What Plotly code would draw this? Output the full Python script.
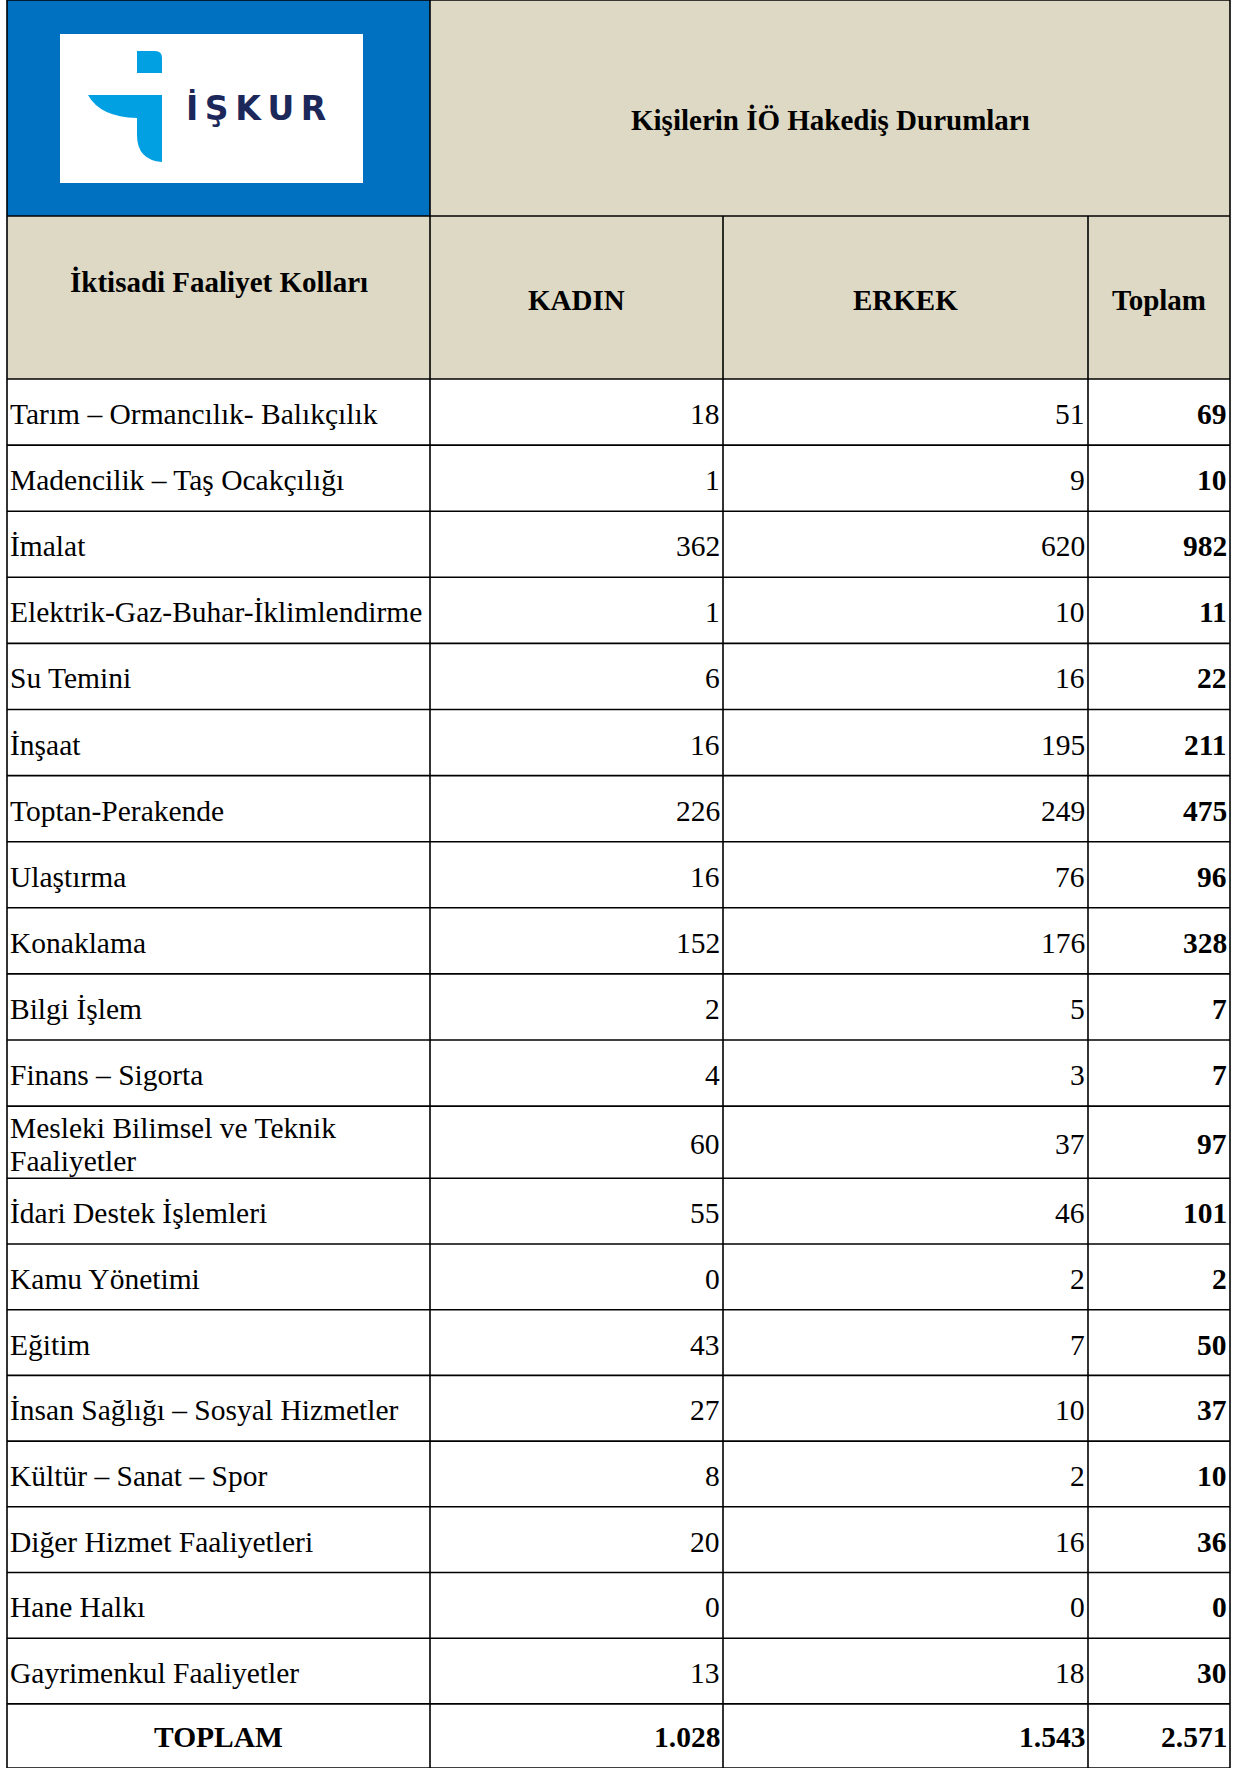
import plotly.graph_objects as go

# ---------------- data ----------------
title = "Kişilerin İÖ Hakediş Durumları"
header_labels = ["İktisadi Faaliyet Kolları", "KADIN", "ERKEK", "Toplam"]
categories = [
    "Tarım – Ormancılık- Balıkçılık",
    "Madencilik – Taş Ocakçılığı",
    "İmalat",
    "Elektrik-Gaz-Buhar-İklimlendirme",
    "Su Temini",
    "İnşaat",
    "Toptan-Perakende",
    "Ulaştırma",
    "Konaklama",
    "Bilgi İşlem",
    "Finans – Sigorta",
    "Mesleki Bilimsel ve Teknik Faaliyetler",
    "İdari Destek İşlemleri",
    "Kamu Yönetimi",
    "Eğitim",
    "İnsan Sağlığı – Sosyal Hizmetler",
    "Kültür – Sanat – Spor",
    "Diğer Hizmet Faaliyetleri",
    "Hane Halkı",
    "Gayrimenkul Faaliyetler",
]
kadin = [18, 1, 362, 1, 6, 16, 226, 16, 152, 2, 4, 60, 55, 0, 43, 27, 8, 20, 0, 13]
erkek = [51, 9, 620, 10, 16, 195, 249, 76, 176, 5, 3, 37, 46, 2, 7, 10, 2, 16, 0, 18]
toplam = [69, 10, 982, 11, 22, 211, 475, 96, 328, 7, 7, 97, 101, 2, 50, 37, 10, 36, 0, 30]
total_label = "TOPLAM"
totals = [1028, 1543, 2571]
logo_text = "İŞKUR"

# ---------------- layout constants ----------------
W, H = 1247, 1768
col_edges = [7, 430, 723, 1088, 1230]
head1_top, head1_bot, head2_bot = 0, 216, 379
BEIGE = "#DDD9C4"
BLUE = "#0070C0"
LINE = "#000000"
SERIF = "Liberation Serif, Times New Roman, serif"
FS = 29.5
HFS = 29


def fmt(v):
    return f"{v:,}".replace(",", ".")


def wrap_lines(s):
    if len(s) <= 34:
        return [s]
    words = s.split(" ")
    lines, cur = [], ""
    for w_ in words:
        cand = (cur + " " + w_).strip()
        if len(cand) > 28 and cur:
            lines.append(cur)
            cur = w_
        else:
            cur = cand
    lines.append(cur)
    return lines


def row_height(i, lab):
    if len(wrap_lines(lab)) > 1:
        return 72.2
    return 66.1 if i < 11 else 65.7


# row boundaries
row_tops = []
y = head2_bot
labels_all = categories + [total_label]
for i, lab in enumerate(labels_all):
    row_tops.append(y)
    y += row_height(i, lab)
row_bottoms = row_tops[1:] + [H]

fig = go.Figure()
shapes = []
ann = []

# header backgrounds
shapes.append(dict(type="rect", x0=col_edges[0], x1=col_edges[1], y0=head1_top, y1=head1_bot,
                   fillcolor=BLUE, line=dict(width=0), layer="below"))
shapes.append(dict(type="rect", x0=col_edges[1], x1=col_edges[4], y0=head1_top, y1=head1_bot,
                   fillcolor=BEIGE, line=dict(width=0), layer="below"))
shapes.append(dict(type="rect", x0=col_edges[0], x1=col_edges[4], y0=head1_bot, y1=head2_bot,
                   fillcolor=BEIGE, line=dict(width=0), layer="below"))

# logo
shapes.append(dict(type="rect", x0=60, x1=363, y0=34, y1=183, fillcolor="white",
                   line=dict(width=0)))
LB = "#00A0E3"
shapes.append(dict(type="path",
                   path="M 137,51 L 155,51 Q 162,51 162,58 L 162,73 L 137,73 Z",
                   fillcolor=LB, line=dict(width=0)))
shapes.append(dict(type="path",
                   path="M 88,95 L 162,95 L 162,162 Q 137,160 137,135 L 137,118 Q 100,117 88,95 Z",
                   fillcolor=LB, line=dict(width=0)))
ann.append(dict(x=184, y=108, text="\u2009".join(logo_text),
                xanchor="left", yanchor="middle", showarrow=False,
                font=dict(family="DejaVu Sans, sans-serif", size=33, color="#1B2859", weight="bold")))

# title
ann.append(dict(x=(col_edges[1] + col_edges[4]) / 2, y=120, text=f"<b>{title}</b>",
                showarrow=False, xanchor="center", yanchor="middle",
                font=dict(family=SERIF, size=HFS, color="black")))

# header row 2
hy = [282, 300, 300, 300]
for i, lab in enumerate(header_labels):
    ann.append(dict(x=(col_edges[i] + col_edges[i + 1]) / 2, y=hy[i], text=f"<b>{lab}</b>",
                    showarrow=False, xanchor="center", yanchor="middle",
                    font=dict(family=SERIF, size=HFS, color="black")))

# data rows
for i, cat in enumerate(categories):
    yc = (row_tops[i] + row_bottoms[i]) / 2
    lines = wrap_lines(cat)
    if len(lines) == 1:
        ann.append(dict(x=col_edges[0] + 1, y=yc + 2, text=cat, showarrow=False,
                        xanchor="left", yanchor="middle", align="left",
                        font=dict(family=SERIF, size=FS, color="black")))
    else:
        for k, ln in enumerate(lines):
            ann.append(dict(x=col_edges[0] + 1, y=row_tops[i] + 22 + 33 * k, text=ln,
                            showarrow=False, xanchor="left", yanchor="middle", align="left",
                            font=dict(family=SERIF, size=FS, color="black")))
    for j, (vals, bold) in enumerate([(kadin, False), (erkek, False), (toplam, True)]):
        t = fmt(vals[i])
        ann.append(dict(x=col_edges[j + 2] - 1, y=yc + 2, text=f"<b>{t}</b>" if bold else t,
                        showarrow=False, xanchor="right", yanchor="middle",
                        font=dict(family=SERIF, size=FS, color="black")))

# total row
k = len(categories)
yc = (row_tops[k] + row_bottoms[k]) / 2
ann.append(dict(x=(col_edges[0] + col_edges[1]) / 2, y=yc + 1, text=f"<b>{total_label}</b>",
                showarrow=False, xanchor="center", yanchor="middle",
                font=dict(family=SERIF, size=FS, color="black")))
for j, v in enumerate(totals):
    ann.append(dict(x=col_edges[j + 2] - 1, y=yc + 1, text=f"<b>{fmt(v)}</b>",
                    showarrow=False, xanchor="right", yanchor="middle",
                    font=dict(family=SERIF, size=FS, color="black")))

# grid lines
lw = 1.6
for yb in [head1_top, head1_bot, head2_bot] + row_bottoms:
    shapes.append(dict(type="line", x0=col_edges[0], x1=col_edges[4], y0=yb, y1=yb,
                       line=dict(color=LINE, width=lw)))
for xe in [col_edges[0], col_edges[1], col_edges[4]]:
    shapes.append(dict(type="line", x0=xe, x1=xe, y0=head1_top, y1=row_bottoms[-1],
                       line=dict(color=LINE, width=lw)))
for xe in [col_edges[2], col_edges[3]]:
    shapes.append(dict(type="line", x0=xe, x1=xe, y0=head1_bot, y1=row_bottoms[-1],
                       line=dict(color=LINE, width=lw)))

fig.update_layout(
    width=W, height=H,
    margin=dict(l=0, r=0, t=0, b=0),
    paper_bgcolor="white", plot_bgcolor="white",
    xaxis=dict(range=[0, W], visible=False, fixedrange=True),
    yaxis=dict(range=[H, 0], visible=False, fixedrange=True),
    shapes=shapes, annotations=ann, showlegend=False,
)

fig.write_html("out.html", config={"displayModeBar": False},
               post_script="document.body.style.margin='0';document.body.style.overflow='hidden';")
